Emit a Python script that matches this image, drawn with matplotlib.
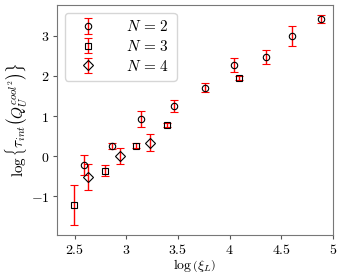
import matplotlib
matplotlib.use("Agg")
import matplotlib.pyplot as plt
from matplotlib.ticker import FuncFormatter

plt.rcParams['mathtext.fontset'] = 'cm'
plt.rcParams['font.family'] = 'serif'
plt.rcParams['font.serif'] = ['DejaVu Serif']

# N = 2
x2 = [2.594, 2.862, 3.143, 3.462, 3.760, 4.047, 4.354, 4.603, 4.887]
y2 = [-0.225, 0.258, 0.917, 1.25, 1.71, 2.275, 2.48, 3.0, 3.41]
e2 = [0.25, 0.07, 0.2, 0.15, 0.11, 0.17, 0.17, 0.25, 0.1]

# N = 3
x3 = [2.494, 2.790, 3.091, 3.398, 4.086]
y3 = [-1.21, -0.367, 0.258, 0.783, 1.95]
e3 = [0.5, 0.14, 0.06, 0.05, 0.04]

# N = 4
x4 = [2.632, 2.942, 3.233]
y4 = [-0.517, 0.0, 0.333]
e4 = [0.33, 0.2, 0.21]

fig = plt.figure(figsize=(3.43, 2.75), dpi=100)
ax = fig.add_axes([0.166, 0.145, 0.805, 0.837])

style = dict(linestyle='none', mfc='none', mec='black', ms=4.6, mew=0.8,
             ecolor='red', elinewidth=1.0, capsize=2.9, capthick=1.0)
ax.errorbar(x2, y2, yerr=e2, marker='o', label=r'$N\,=\,2$', **style)
ax.errorbar(x3, y3, yerr=e3, marker='s', label=r'$N\,=\,3$', **style)
ax.errorbar(x4, y4, yerr=e4, marker='D', label=r'$N\,=\,4$', **style)

ax.set_xlim(2.33, 5.0)
ax.set_xticks([2.5, 3, 3.5, 4, 4.5, 5])
ax.set_yticks([-1, 0, 1, 2, 3])
fmt = FuncFormatter(lambda v, p: r'$%g$' % v)
ax.xaxis.set_major_formatter(fmt)
ax.yaxis.set_major_formatter(fmt)
ax.tick_params(labelsize=10, length=3, pad=2.5, color='#555555')
for s in ax.spines.values():
    s.set_color('#777777')

ax.set_xlabel(r'$\log\left(\xi_L\right)$', fontsize=10, labelpad=0)
ax.set_ylabel(r'$\log\left\{\tau_{int}\left(Q_U^{cool^2}\right)\right\}$', fontsize=11, labelpad=1)

ax.legend(loc='upper left', fontsize=11, handletextpad=1.4, borderpad=0.45,
          labelspacing=0.3, handlelength=2.2)

fig.savefig('out.png', dpi=100)
